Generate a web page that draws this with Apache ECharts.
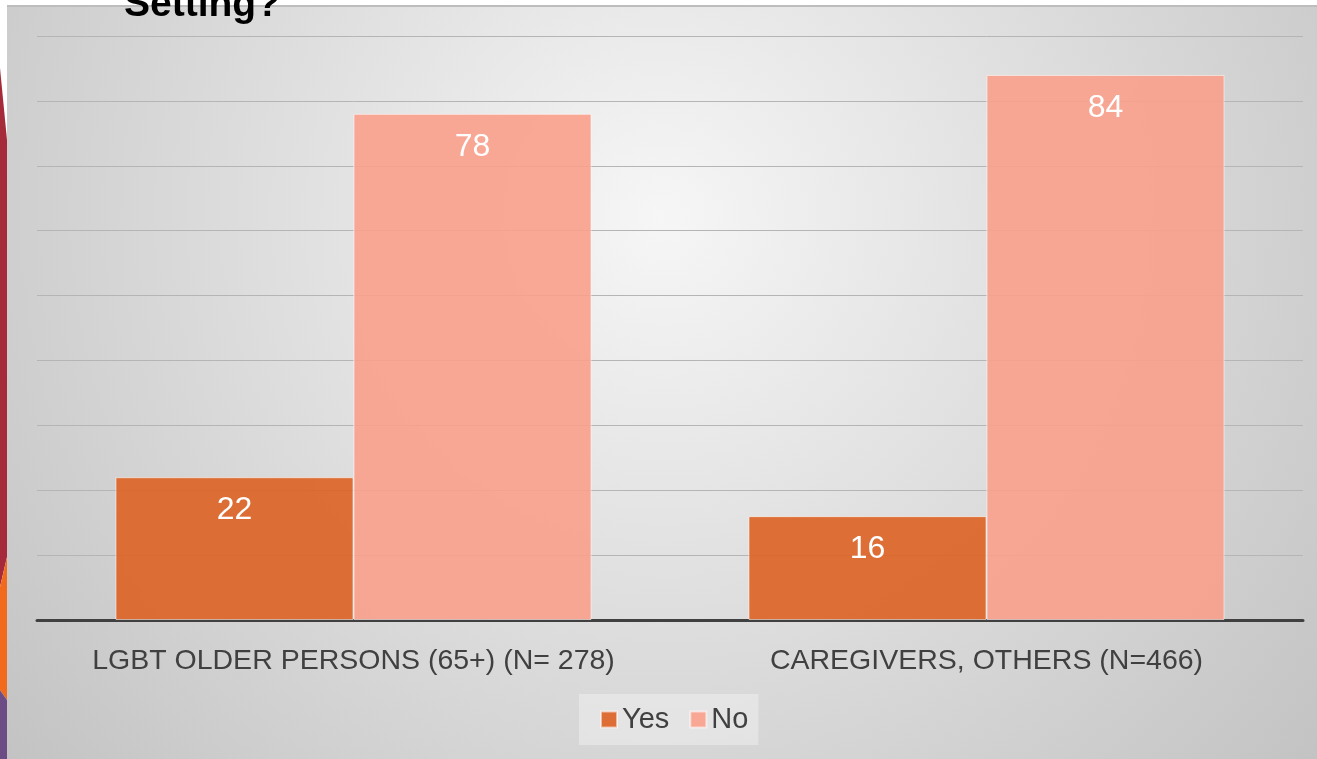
<!DOCTYPE html>
<html>
<head>
<meta charset="utf-8">
<script src="https://cdn.jsdelivr.net/npm/echarts@6/dist/echarts.min.js"></script>
<style>
html,body{margin:0;padding:0;background:#fff;}
#chart{width:1317px;height:759px;}
</style>
</head>
<body>
<div id="chart"></div>
<script>
const titleText = 'Setting?';
const categories = ['LGBT OLDER PERSONS (65+) (N= 278)', 'CAREGIVERS, OTHERS (N=466)'];
const seriesNames = ['Yes', 'No'];
const yesValues = [22, 16];
const noValues = [78, 84];
const yMin = 0, yMax = 90, yInterval = 10;

const chart = echarts.init(document.getElementById('chart'), null, {renderer: 'canvas'});

const panelFill = new echarts.graphic.RadialGradient(0.5, 0.28, 1.13, [
  {offset: 0, color: '#f6f6f6'},
  {offset: 1, color: '#c3c3c3'}
]);

const option = {
  backgroundColor: '#ffffff',
  animation: false,
  graphic: [
    {type: 'rect', z: -10, silent: true, shape: {x: 7, y: 7, width: 1310, height: 752}, style: {fill: panelFill}},
    {type: 'rect', z: -9, silent: true, shape: {x: 7, y: 5, width: 1310, height: 2}, style: {fill: '#bdbdbd'}},
    {type: 'polygon', z: -9, silent: true, shape: {points: [[0,68],[7,140],[7,557],[0,587]]}, style: {fill: '#a62b3a'}},
    {type: 'polygon', z: -9, silent: true, shape: {points: [[0,587],[7,557],[7,700],[0,690]]}, style: {fill: '#f26b1d'}},
    {type: 'polygon', z: -9, silent: true, shape: {points: [[0,690],[7,700],[7,759],[0,759]]}, style: {fill: '#6b4c85'}},
    {type: 'text', z: 10, silent: true, x: 124, y: 5,
      style: {text: titleText, fill: '#000', font: 'bold 39px "Liberation Sans", Arial, sans-serif', verticalAlign: 'middle'}}
  ],
  grid: {left: 37, right: 14, top: 36, bottom: 139, containLabel: false},
  legend: {
    data: seriesNames,
    left: 579,
    top: 694,
    icon: 'rect',
    itemWidth: 16,
    itemHeight: 16,
    itemGap: 20,
    padding: [11, 10, 11, 21],
    backgroundColor: 'rgba(238,238,238,0.55)',
    textStyle: {color: '#404040', fontSize: 29, fontFamily: '"Liberation Sans", Arial, sans-serif'}
  },
  xAxis: {
    type: 'category',
    data: categories,
    axisLine: {show: true, lineStyle: {color: '#404040', width: 3}},
    axisTick: {show: false},
    axisLabel: {interval: 0, color: '#404040', fontSize: 28.5, margin: 27, fontFamily: '"Liberation Sans", Arial, sans-serif'}
  },
  yAxis: {
    type: 'value',
    min: yMin, max: yMax, interval: yInterval,
    axisLine: {show: false},
    axisTick: {show: false},
    axisLabel: {show: false},
    splitLine: {show: true, lineStyle: {color: '#b5b5b5', width: 1}}
  },
  series: [
    {
      name: seriesNames[0], type: 'bar', data: yesValues,
      barGap: '0%', barCategoryGap: '24.8%',
      itemStyle: {color: 'rgba(220,100,38,0.92)', borderColor: 'rgba(255,255,255,0.55)', borderWidth: 1},
      label: {show: true, position: 'insideTop', distance: 17, color: '#ffffff', fontSize: 32, fontFamily: '"Liberation Sans", Arial, sans-serif'}
    },
    {
      name: seriesNames[1], type: 'bar', data: noValues,
      barGap: '0%', barCategoryGap: '24.8%',
      itemStyle: {color: 'rgba(250,160,140,0.9)', borderColor: 'rgba(255,255,255,0.55)', borderWidth: 1},
      label: {show: true, position: 'insideTop', distance: 17, color: '#ffffff', fontSize: 32, fontFamily: '"Liberation Sans", Arial, sans-serif'}
    }
  ]
};
chart.setOption(option);
</script>
</body>
</html>
